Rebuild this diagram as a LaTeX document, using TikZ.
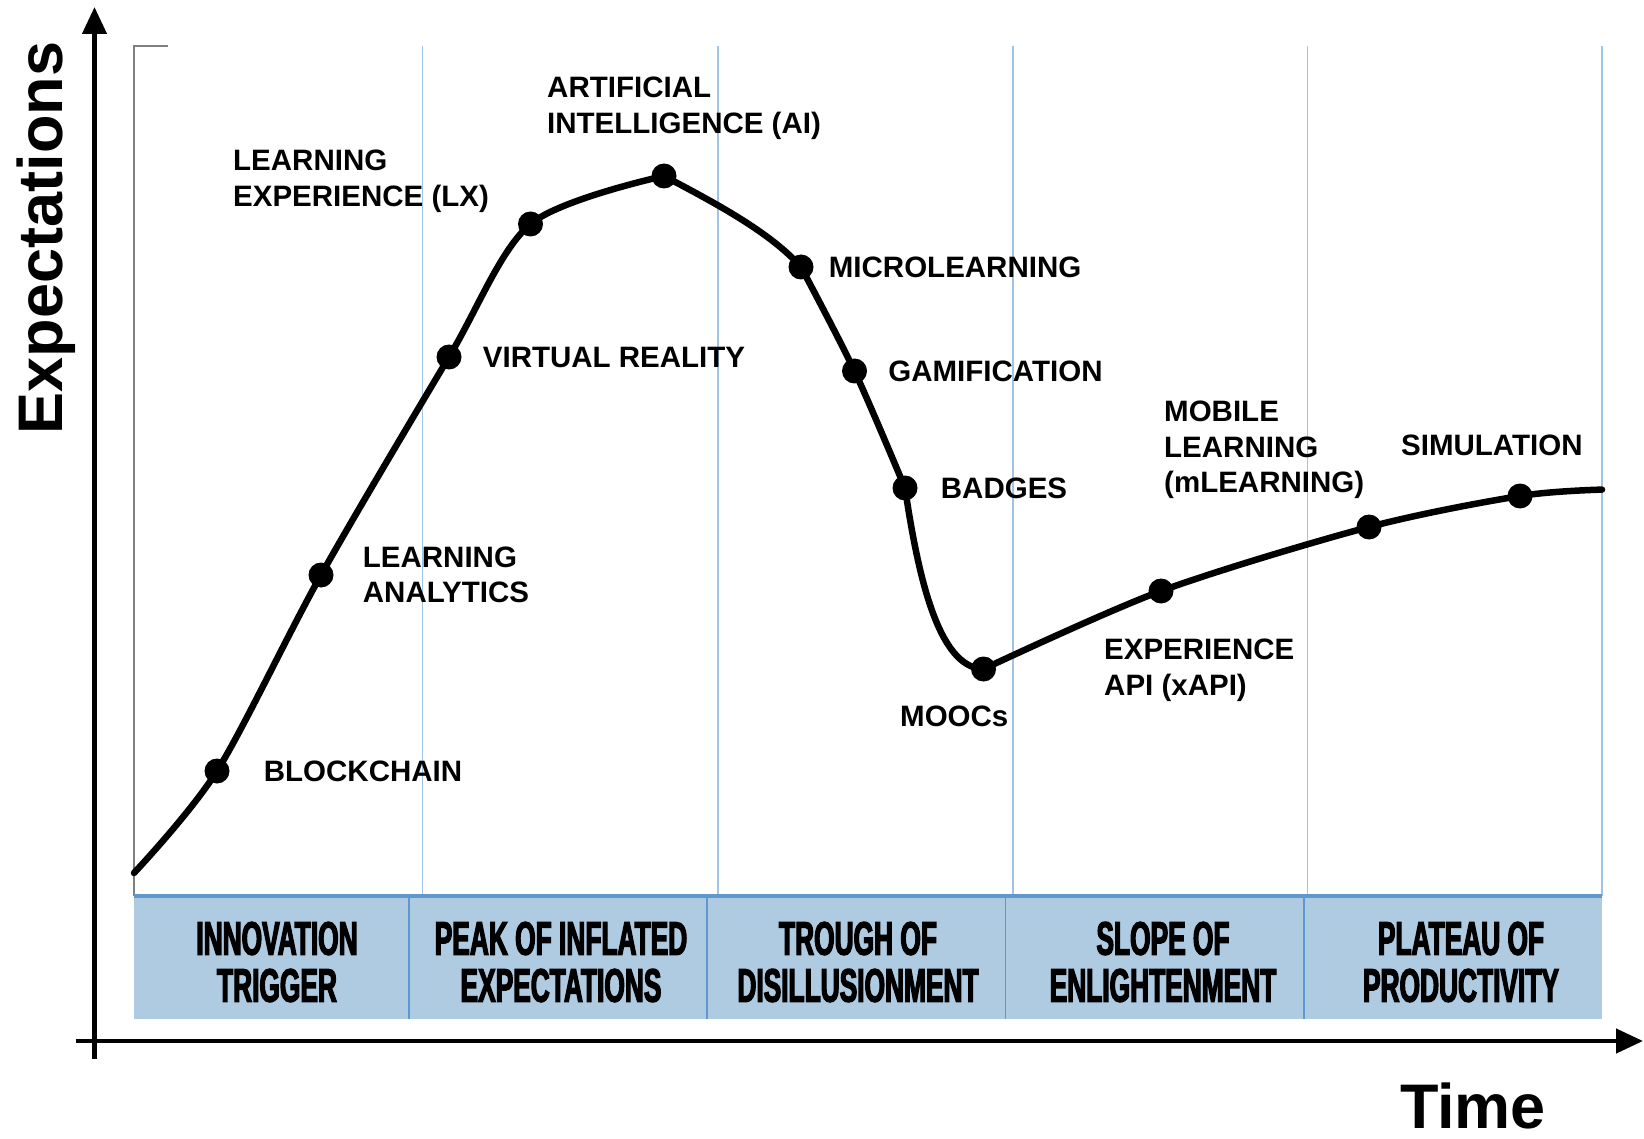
\documentclass[tikz,border=0pt]{standalone}
\usepackage{fontspec}
\setmainfont{Liberation Sans}
\newfontfamily\phasefont[FakeStretch=0.56,FakeBold=2.6]{Liberation Sans}
\usetikzlibrary{arrows.meta,positioning}
\definecolor{bandblue}{HTML}{AFCBE2}
\definecolor{gridblue}{HTML}{A0C4E6}
\definecolor{edgeblue}{HTML}{5F98CF}
\tikzset{
  >={Triangle[length=27pt,width=24pt]},
  axis/.style={->,line width=4.5pt},
  gridline/.style={gridblue,line width=1.8pt},
  dot/.style={circle,fill=black,inner sep=0pt,minimum size=25pt},
  tech/.style={anchor=west,align=left,inner sep=0pt,font=\bfseries\fontsize{29.5}{35.6}\selectfont},
  phase/.style={align=center,inner sep=0pt,font=\phasefont\bfseries\fontsize{47}{47}\selectfont},
  hype/.style={line width=6.5pt,line join=round,line cap=round},
}

\begin{document}
\begin{tikzpicture}[x=1pt,y=-1pt]
  \useasboundingbox (0,0) rectangle (1644,1139);
  % frame, grid and phase band
  \draw[gray,line width=1.2pt] (168,46) -- (134,46) -- (134,896);
  \foreach \gx in {422.5,718,1013,1307.5,1602}
    \draw[gridline] (\gx,46) -- (\gx,896);
  \fill[bandblue] (134,896) rectangle (1602,1019);
  \foreach \gx in {409,707,1005.5,1304}
    \draw[edgeblue,line width=1.6pt] (\gx,896) -- (\gx,1019);
  \draw[edgeblue,line width=4pt] (134,896) -- (1602,896);
  \node[phase] (trigger) at (277,962) {INNOVATION\\TRIGGER};
  \node[phase] (peak) at (561,962) {PEAK OF INFLATED\\EXPECTATIONS};
  \node[phase] (trough) at (858,962) {TROUGH OF\\DISILLUSIONMENT};
  \node[phase] (slope) at (1163,962) {SLOPE OF\\ENLIGHTENMENT};
  \node[phase] (plateau) at (1461,962) {PLATEAU OF\\PRODUCTIVITY};

  % axes
  \coordinate (ybot) at (94.5,1059);
  \coordinate (ytop) at (94.5,7);
  \coordinate (xleft) at (75.5,1041);
  \coordinate (xright) at (1643,1041);
  \draw[axis] (ybot) -- (ytop);
  \draw[axis] (xleft) -- (xright);
  \node[rotate=90,font=\bfseries\fontsize{63}{63}\selectfont] (ylab) at (46,238) {Expectations};
  \node[inner sep=0pt,font=\bfseries\fontsize{63}{63}\selectfont] (xlab) at (1473,1106) {Time};

  % hype curve
  \coordinate (start) at (134,873);
  \node[dot] (blk) at (217,771) {};
  \node[dot] (la) at (321,575) {};
  \node[dot] (vr) at (449,357) {};
  \node[dot] (lx) at (530.5,224) {};
  \node[dot] (ai) at (664,176) {};
  \node[dot] (micro) at (801,267) {};
  \node[dot] (gam) at (854.5,371) {};
  \node[dot] (badge) at (905,488) {};
  \node[dot] (mooc) at (983.5,669) {};
  \node[dot] (xapi) at (1161,591) {};
  \node[dot] (mob) at (1369,527) {};
  \node[dot] (sim) at (1520,496) {};
  \coordinate (finish) at (1602,489.6);
  \draw[hype] plot[smooth,tension=0.5] coordinates {(start) (blk.center) (la.center) (vr.center) (lx.center) (ai.center)};
  \draw[hype] (ai.center) .. controls (715,203) and (770,232) .. (micro.center);
  \draw[hype] plot[smooth,tension=0.5] coordinates {(micro.center) (gam.center) (badge.center)};
  \draw[hype] (badge.center) .. controls (918,575) and (938,668) .. (mooc.center);
  \draw[hype] plot[smooth,tension=0.5] coordinates {(mooc.center) (xapi.center) (mob.center) (sim.center) (finish)};

  % labels
  \node[tech] (lxlab) at (233,181) {LEARNING\\EXPERIENCE (LX)};
  \node[tech] (ailab) at (547,108) {ARTIFICIAL\\INTELLIGENCE (AI)};
  \node[tech,right=15pt of micro] (microlab) {MICROLEARNING};
  \node[tech,right=21pt of vr] (vrlab) {VIRTUAL REALITY};
  \node[tech,right=21pt of gam] (gamlab) {GAMIFICATION};
  \node[tech,right=23pt of badge] (badgelab) {BADGES};
  \node[tech] (moblab) at (1164,450) {MOBILE\\LEARNING\\(mLEARNING)};
  \node[tech] (simlab) at (1401,445) {SIMULATION};
  \node[tech,right=29pt of la] (lalab) {LEARNING\\ANALYTICS};
  \node[tech] (xapilab) at (1104,670) {EXPERIENCE\\API (xAPI)};
  \node[tech] (mooclab) at (900,716) {MOOCs};
  \node[tech,right=34pt of blk] (blklab) {BLOCKCHAIN};
\end{tikzpicture}
\end{document}
